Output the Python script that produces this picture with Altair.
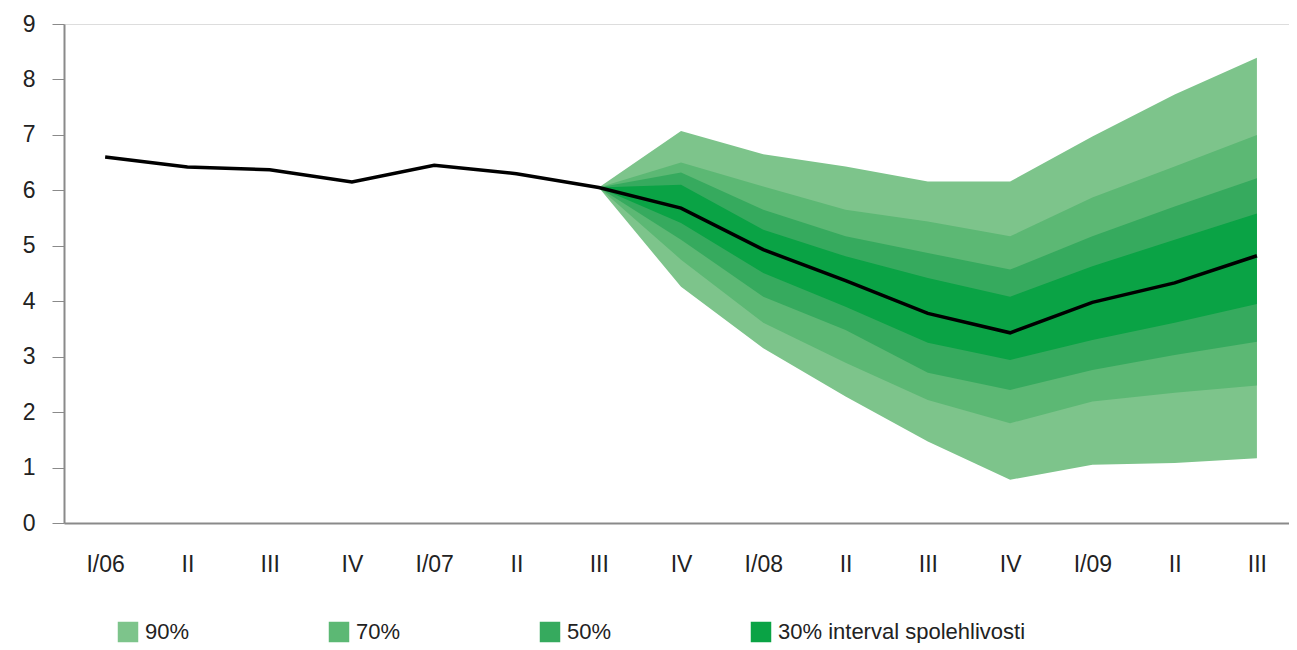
import altair as alt
import pandas as pd

quarters = ["I/06", "II", "III", "IV", "I/07", "II", "III", "IV",
            "I/08", "II", "III", "IV", "I/09", "II", "III"]
central = [6.60, 6.42, 6.37, 6.15, 6.45, 6.30, 6.05, 5.68,
           4.93, 4.37, 3.78, 3.43, 3.98, 4.33, 4.82]

# forecast part: from III/07 (index 6) to III/09 (index 14)
fan_start = 6
hi90 = [6.05, 7.07, 6.65, 6.43, 6.16, 6.16, 6.97, 7.73, 8.39]
hi70 = [6.05, 6.50, 6.07, 5.65, 5.44, 5.17, 5.87, 6.43, 7.00]
hi50 = [6.05, 6.32, 5.65, 5.17, 4.87, 4.57, 5.17, 5.71, 6.22]
hi30 = [6.05, 6.10, 5.29, 4.81, 4.42, 4.08, 4.63, 5.11, 5.58]
lo30 = [6.05, 5.41, 4.51, 3.90, 3.25, 2.94, 3.30, 3.61, 3.95]
lo50 = [6.05, 5.11, 4.08, 3.48, 2.71, 2.40, 2.76, 3.03, 3.27]
lo70 = [6.05, 4.75, 3.61, 2.89, 2.22, 1.80, 2.19, 2.35, 2.48]
lo90 = [6.05, 4.26, 3.15, 2.28, 1.47, 0.78, 1.05, 1.08, 1.17]

band_names = ["90%", "70%", "50%", "30% interval spolehlivosti"]
band_colors = ["#7dc48b", "#5cb874", "#36aa5e", "#0aa345"]
band_lo = [lo90, lo70, lo50, lo30]
band_hi = [hi90, hi70, hi50, hi30]

rows = []
for name, lo, hi in zip(band_names, band_lo, band_hi):
    for k, (a, b) in enumerate(zip(lo, hi)):
        rows.append({"i": fan_start + k, "lo": a, "hi": b, "band": name})
fan_df = pd.DataFrame(rows)
line_df = pd.DataFrame({"i": list(range(len(quarters))), "v": central})

label_expr = "[" + ",".join("'" + q + "'" for q in quarters) + "][datum.value]"

x_enc = alt.X("i:Q",
              scale=alt.Scale(domain=[-0.5, 14.39], nice=False, zero=False),
              axis=alt.Axis(values=list(range(len(quarters))), labelExpr=label_expr,
                            ticks=False, grid=False, labelPadding=30,
                            labelFontSize=23, labelColor="#222",
                            domainColor="#8a8a8a", domainWidth=2, title=None))
y_scale = alt.Scale(domain=[0, 9], nice=False)
y_axis = alt.Axis(values=list(range(10)), grid=False, tickSize=12, tickColor="#8a8a8a",
                  domainColor="#8a8a8a", domainWidth=2, labelPadding=17,
                  labelFontSize=23, labelColor="#222", title=None)

color = alt.Color("band:N",
                  scale=alt.Scale(domain=band_names, range=band_colors),
                  legend=alt.Legend(orient="none", legendX=53, legendY=597,
                                    direction="horizontal", title=None,
                                    symbolType="square", symbolSize=420,
                                    symbolStrokeWidth=0, symbolOpacity=1,
                                    labelFontSize=22, labelColor="#222",
                                    labelOffset=6, columnPadding=138,
                                    labelLimit=400, padding=0))

layers = []
for name in band_names:
    layers.append(
        alt.Chart(fan_df).transform_filter(alt.datum.band == name)
        .mark_area(opacity=1, interpolate="linear")
        .encode(x=x_enc, y=alt.Y("lo:Q", scale=y_scale, axis=y_axis), y2="hi:Q", color=color)
    )

line = alt.Chart(line_df).mark_line(color="black", strokeWidth=3.5).encode(
    x=x_enc, y=alt.Y("v:Q", scale=y_scale, axis=y_axis))

chart = alt.layer(*layers, line).properties(
    width=1225, height=499,
    autosize=alt.AutoSizeParams(type="none"),
    padding={"left": 56, "top": 16, "right": 0, "bottom": 120},
).configure_view(stroke=None).configure(font="Liberation Sans")

chart.save("out.html", embed_options={"renderer": "svg", "actions": False})
